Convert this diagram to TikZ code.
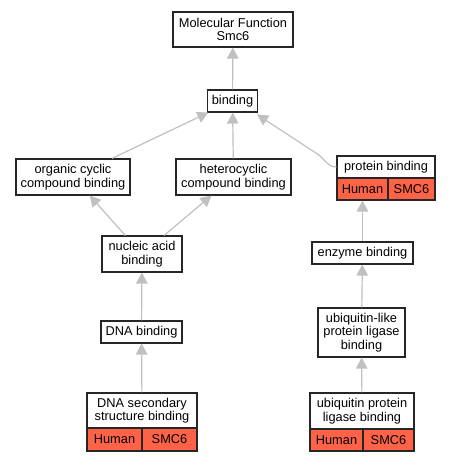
\documentclass[tikz,border=0pt]{standalone}
\usepackage{fontspec}
\setmainfont{Liberation Sans}
\usetikzlibrary{arrows.meta}
\definecolor{hit}{HTML}{FF6347}
\definecolor{edgegray}{HTML}{C0C0C0}
\begin{document}
\begin{tikzpicture}[x=1pt,y=1pt,
  box/.style={draw=black!85, line width=1.1pt, fill=white, inner sep=0pt, align=center,
    font=\fontsize{12.8}{13.6}\selectfont},
  cell/.style={box, fill=hit},
  edge/.style={draw=edgegray, line width=1.2pt, -{Triangle[length=11pt,width=11.5pt]}}]
\useasboundingbox (0,0) rectangle (449,-461);
% nodes
\node[box, minimum width=120pt, minimum height=35pt] (mf) at (233,-29.5) {Molecular Function\\Smc6};
\node[box, minimum width=50pt, minimum height=22pt] (bind) at (232.5,-101) {binding};
\node[box, minimum width=114pt, minimum height=36pt] (org) at (73,-177) {organic cyclic\\compound binding};
\node[box, minimum width=115pt, minimum height=36pt] (het) at (233.5,-177) {heterocyclic\\compound binding};
\node[box, minimum width=98pt, minimum height=22pt] (prot) at (386,-167) {protein binding};
\node[cell, minimum width=51pt, minimum height=22pt] (proth) at (362.5,-189) {Human};
\node[cell, minimum width=47pt, minimum height=22pt] (prots) at (411.5,-189) {SMC6};
\node[box, minimum width=80pt, minimum height=36pt] (nuc) at (142,-254) {nucleic acid\\binding};
\node[box, minimum width=101pt, minimum height=22pt] (enz) at (362.5,-253) {enzyme binding};
\node[box, minimum width=81pt, minimum height=22pt] (dna) at (141.5,-332) {DNA binding};
\node[box, minimum width=87pt, minimum height=49pt] (ull) at (361.5,-332.5) {ubiquitin-like\\protein ligase\\binding};
\node[box, minimum width=110pt, minimum height=35pt] (dss) at (142,-410.5) {DNA secondary\\structure binding};
\node[cell, minimum width=55pt, minimum height=23pt] (dssh) at (114.5,-439.5) {Human};
\node[cell, minimum width=55pt, minimum height=23pt] (dsss) at (169.5,-439.5) {SMC6};
\node[box, minimum width=104pt, minimum height=36pt] (upl) at (362,-411) {ubiquitin protein\\ligase binding};
\node[cell, minimum width=53pt, minimum height=22pt] (uplh) at (336.5,-440) {Human};
\node[cell, minimum width=51pt, minimum height=22pt] (upls) at (388.5,-440) {SMC6};
% edges
\draw[edge] (bind) -- (mf);
\draw[edge] (org) -- (bind);
\draw[edge] (het) -- (bind);
\draw[edge] (prot.west) to[out=180,in=-35] ++(-19,13) -- ([xshift=-1pt,yshift=-2pt]bind.south east);
\draw[edge] (nuc) -- (org);
\draw[edge] (nuc) -- (het);
\draw[edge] (dna) -- (nuc);
\draw[edge] (dss) -- (dna);
\draw[edge] (enz) -- (proth.south -| enz.north);
\draw[edge] (ull) -- (enz);
\draw[edge] (upl) -- (ull);
\end{tikzpicture}
\end{document}
